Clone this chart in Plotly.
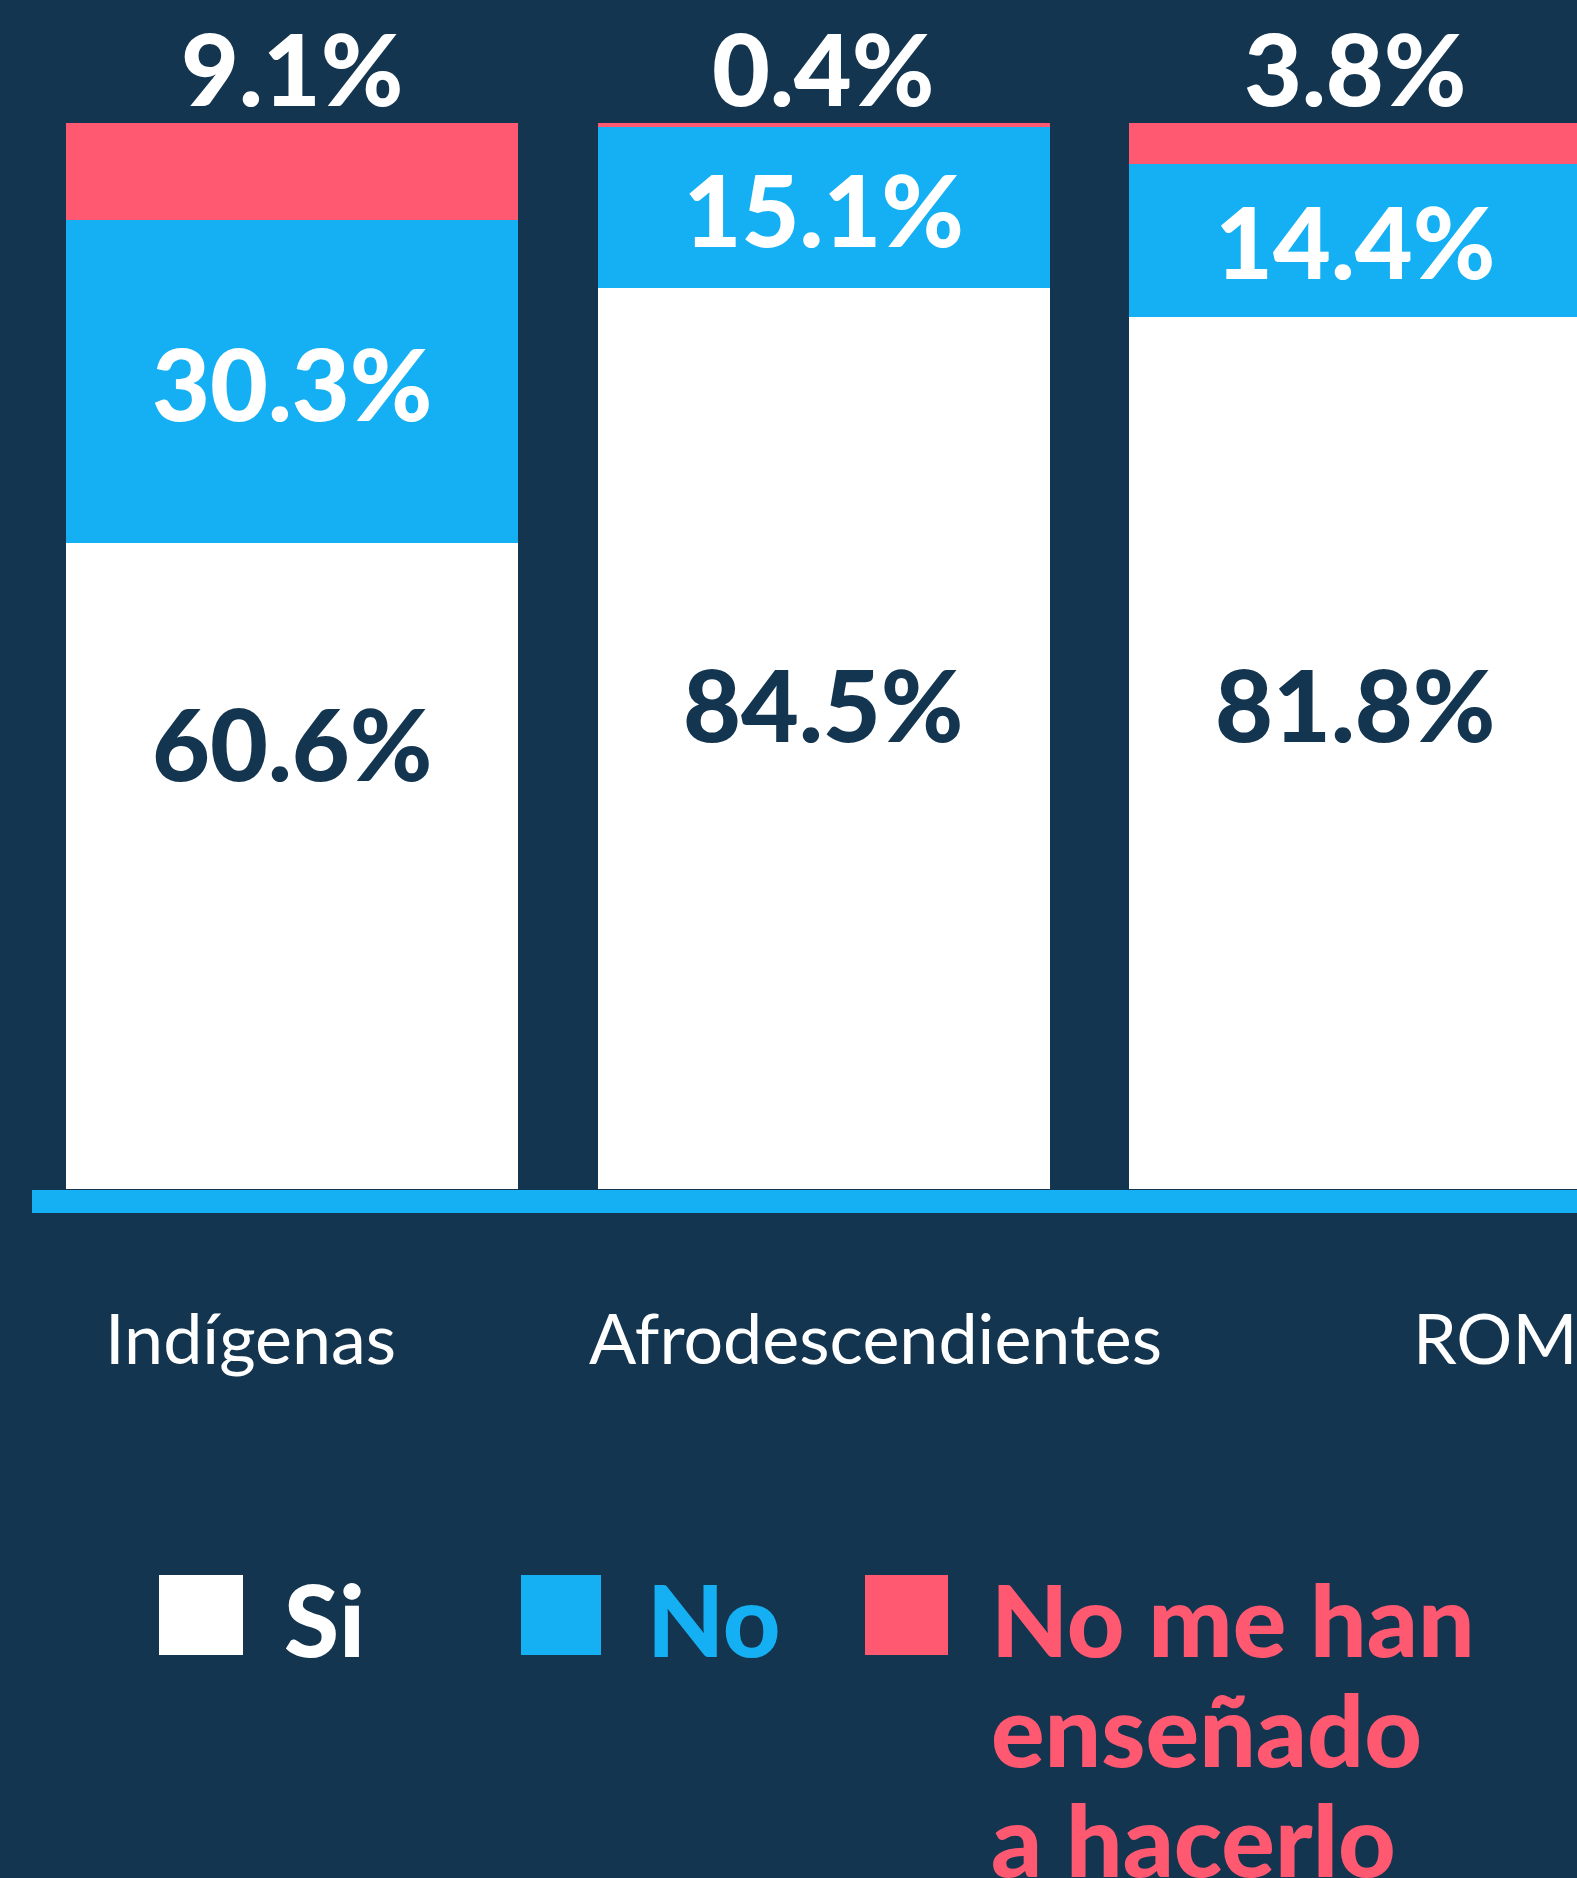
import plotly.graph_objects as go

# ---------------- data ----------------
categories = ["Indígenas", "Afrodescendientes", "ROM"]
si = [60.6, 84.5, 81.8]
no = [30.3, 15.1, 14.4]
no_ensenado = [9.1, 0.4, 3.8]
series_names = ["Si", "No", "No me han enseñado a hacerlo"]
legend_lines = ["No me han", "enseñado", "a hacerlo"]
# label placement (category-axis units / percent units)
category_label_x = [-0.078, 1.098, 2.263]
si_label_y = [41.9, 45.6, 45.6]

# ---------------- style ----------------
BG = "#13354F"
WHITE = "#FFFFFF"
BLUE = "#15B0F3"
PINK = "#FF5871"
W, H = 1577, 1878
L, T = 32, 5
PLOT_BOTTOM = 1189
plot_w = W - L
plot_h = PLOT_BOTTOM - T
px_per_pct = 1066 / 100.0
y_top = plot_h / px_per_pct
x_range = [-0.4897, 2.4172]

VAL_FONT = "Lato, Roboto, sans-serif"
VAL_SIZE = 100
VAL_WEIGHT = 900


def fmt(v):
    return f"{v:.1f}%"


def py(ypx):
    return (PLOT_BOTTOM - ypx) / plot_h


def px(xpx):
    return (xpx - L) / plot_w


fig = go.Figure()
fig.add_trace(go.Bar(
    x=categories, y=si, name=series_names[0],
    marker=dict(color=WHITE, line=dict(width=0)),
    textposition="none", hoverinfo="skip",
))
fig.add_trace(go.Bar(
    x=categories, y=no, name=series_names[1],
    marker=dict(color=BLUE, line=dict(width=0)),
    text=[fmt(v) for v in no], textposition="inside", insidetextanchor="middle",
    textfont=dict(family=VAL_FONT, size=VAL_SIZE, color=WHITE, weight=VAL_WEIGHT),
    constraintext="none", hoverinfo="skip",
))
fig.add_trace(go.Bar(
    x=categories, y=no_ensenado, name=series_names[2],
    marker=dict(color=PINK, line=dict(width=0)),
    textposition="none", hoverinfo="skip",
))

annotations = []
# values on the white segment
for i, v in enumerate(si):
    annotations.append(dict(
        x=i, y=si_label_y[i], xref="x", yref="y", text=fmt(v), showarrow=False,
        xanchor="center", yanchor="middle",
        font=dict(family=VAL_FONT, size=VAL_SIZE, color=BG, weight=VAL_WEIGHT),
    ))
# values above the stack (pink series)
for i, v in enumerate(no_ensenado):
    annotations.append(dict(
        x=i, y=si[i] + no[i] + v, xref="x", yref="y", text=fmt(v), showarrow=False,
        xanchor="center", yanchor="bottom", yshift=-6,
        font=dict(family=VAL_FONT, size=VAL_SIZE, color=WHITE, weight=VAL_WEIGHT),
    ))
# category labels
for i, c in enumerate(categories):
    annotations.append(dict(
        x=category_label_x[i], y=py(1337), xref="x", yref="paper", text=c,
        showarrow=False, xanchor="center", yanchor="middle",
        font=dict(family="Lato, Roboto, sans-serif", size=70, color=WHITE, weight=400),
    ))

# legend (drawn manually to match large swatches)
shapes = []
swatches = [(159, 243, WHITE), (521, 601, BLUE), (865, 948, PINK)]
for x0, x1, col in swatches:
    shapes.append(dict(type="rect", xref="paper", yref="paper",
                       x0=px(x0), x1=px(x1), y0=py(1655), y1=py(1575),
                       fillcolor=col, line=dict(width=0), layer="above"))
leg_font = dict(family="Lato, Roboto, sans-serif", size=100, weight=900)
annotations.append(dict(x=px(282), y=py(1618), xref="paper", yref="paper",
                        text=series_names[0], showarrow=False, xanchor="left", yanchor="middle",
                        font=dict(color=WHITE, **leg_font)))
annotations.append(dict(x=px(645), y=py(1618), xref="paper", yref="paper",
                        text=series_names[1], showarrow=False, xanchor="left", yanchor="middle",
                        font=dict(color=BLUE, **leg_font)))
for k, line in enumerate(legend_lines):
    annotations.append(dict(x=px(989), y=py(1618 + 110 * k), xref="paper", yref="paper",
                            text=line, showarrow=False, xanchor="left", yanchor="middle",
                            font=dict(color=PINK, **leg_font)))

# baseline
shapes.append(dict(type="rect", xref="paper", yref="paper",
                   x0=0, x1=1, y0=py(1213), y1=py(1190),
                   fillcolor=BLUE, line=dict(width=0), layer="above"))

fig.update_layout(
    width=W, height=H,
    margin=dict(l=L, r=0, t=T, b=H - PLOT_BOTTOM, pad=0),
    paper_bgcolor=BG, plot_bgcolor=BG,
    barmode="stack", bargap=0.1496,
    showlegend=False,
    xaxis=dict(range=x_range, showticklabels=False, showgrid=False, zeroline=False,
               showline=False, ticks="", fixedrange=True),
    yaxis=dict(range=[0, y_top], visible=False, showgrid=False, zeroline=False, fixedrange=True),
    annotations=annotations, shapes=shapes,
    uniformtext=dict(mode=False),
)

fig.write_html(
    "out.html",
    config={"displayModeBar": False},
    post_script="document.body.style.margin='0';document.body.style.background='#13354F';",
)
